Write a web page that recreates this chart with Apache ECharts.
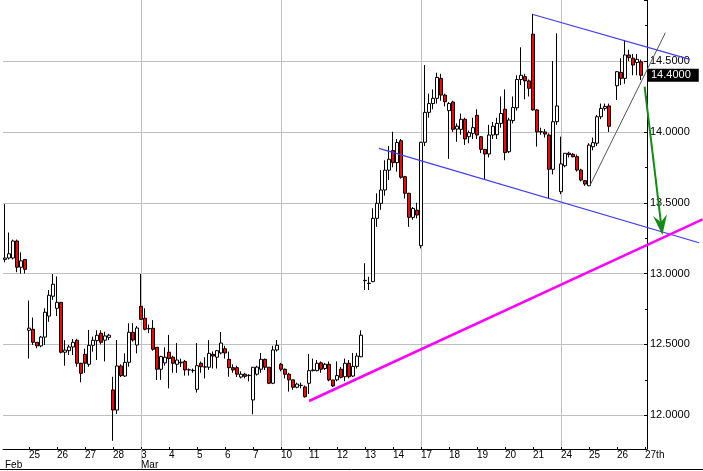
<!DOCTYPE html>
<html><head><meta charset="utf-8">
<script src="https://cdn.jsdelivr.net/npm/echarts@6/dist/echarts.min.js"></script>
<style>html,body{margin:0;padding:0;background:#fff}#c{width:703px;height:471px}</style>
</head><body><div id="c"></div>
<script>
// ---- tick labels / days ----
const dayLabels   = ['', '25','26','27','28','3','4','5','6','7','10','11','12','13','14','17','18','19','20','21','24','25','26','27th'];
const monthLabels = ['Feb','','','','','Mar','','','','','','','','','','','','','','','','','',''];
const barsPerDay  = [6,7,7,7,7,7,7,7,7,7,7,7,7,7,7,7,7,7,7,7,7,7,7,1];
const weekStartDays = [5,10,15,20];

// ---- hourly OHLC ----
const openP = [
13.10,13.11,13.11,13.23,13.045,13.10,
12.60,12.607,12.515,12.49,12.552,12.70,12.84,
12.755,12.797,12.445,12.456,12.482,12.529,12.367,
12.43,12.36,12.494,12.527,12.579,12.53,12.55,
12.179,12.037,12.348,12.277,12.374,12.586,12.496,
12.769,12.685,12.61,12.614,12.48,12.325,12.37,
12.445,12.41,12.36,12.37,12.38,12.32,12.315,
12.183,12.367,12.34,12.339,12.43,12.41,12.44,
12.47,12.395,12.336,12.336,12.27,12.29,12.28,
12.108,12.29,12.325,12.395,12.339,12.226,12.461,
12.36,12.325,12.29,12.25,12.198,12.21,12.20,
12.226,12.315,12.315,12.37,12.33,12.36,12.249,
12.25,12.325,12.272,12.367,12.277,12.345,12.413,
12.95,12.93,12.943,13.39,13.496,13.59,13.73,
13.868,13.783,13.938,13.684,13.567,13.397,13.447,
13.197,13.927,14.138,14.20,14.237,14.378,14.26,
14.15,14.211,14.02,14.018,14.089,13.966,13.99,
14.117,13.966,13.877,13.844,13.978,13.98,14.06,
14.16,13.86,14.08,14.17,14.37,14.39,14.36,
14.69,14.155,14.0,14.0,13.978,13.736,14.072,
13.578,13.761,13.85,13.842,13.825,13.731,13.656,
13.62,13.895,13.92,14.107,14.166,14.183,null,
14.326,14.42,14.378,14.543,14.52,14.49,14.495];
const closeP = [
13.11,13.14,13.23,13.045,13.09,13.03,
12.615,12.515,12.49,12.552,12.727,12.847,12.925,
12.797,12.445,12.46,12.482,12.515,12.367,12.296,
12.367,12.494,12.529,12.565,12.515,12.56,12.565,
12.037,12.348,12.28,12.374,12.586,12.531,12.616,
12.677,12.607,12.612,12.466,12.325,12.414,12.41,
12.40,12.367,12.39,12.375,12.32,12.322,12.317,
12.35,12.343,12.342,12.437,12.418,12.456,12.51,
12.44,12.336,12.32,12.29,12.29,12.275,12.282,
12.339,12.34,12.395,12.339,12.226,12.461,12.494,
12.325,12.29,12.25,12.198,12.22,12.212,12.131,
12.315,12.32,12.367,12.325,12.36,12.249,12.207,
12.28,12.268,12.367,12.272,12.345,12.418,12.565,
12.952,12.932,13.39,13.496,13.59,13.73,13.807,
13.783,13.925,13.68,13.567,13.397,13.46,13.413,
13.927,14.138,14.20,14.237,14.385,14.26,14.213,
14.20,14.018,14.04,14.089,13.95,13.995,14.03,
13.978,13.877,13.844,13.978,14.04,14.06,14.13,
13.854,14.084,14.173,14.37,14.40,14.36,14.308,
14.155,14.0,14.002,13.985,13.736,14.072,14.183,
13.774,13.849,13.84,13.825,13.731,13.66,13.632,
13.907,13.924,14.107,14.166,14.18,14.04,null,
14.425,14.378,14.543,14.524,14.472,14.512,14.40];
const lowP = [
13.08,13.10,13.10,13.01,13.00,13.00,
12.40,12.496,12.473,12.48,12.496,12.66,12.814,
12.70,12.437,12.35,12.425,12.425,12.343,12.233,
12.30,12.343,12.449,12.39,12.50,12.38,12.53,
11.82,12.009,12.27,12.27,12.343,12.52,12.437,
12.672,12.60,12.58,12.456,12.249,12.25,12.35,
12.19,12.30,12.30,12.34,12.28,12.28,12.30,
12.16,12.30,12.26,12.32,12.33,12.33,12.43,
12.40,12.272,12.30,12.27,12.26,12.26,12.24,
12.007,12.28,12.30,12.32,12.22,12.22,12.45,
12.31,12.26,12.167,12.18,12.19,12.19,12.125,
12.15,12.31,12.31,12.30,12.32,12.24,12.20,
12.24,12.26,12.24,12.26,12.27,12.33,12.41,
12.884,12.884,12.94,13.33,13.45,13.55,13.66,
13.75,13.72,13.67,13.53,13.33,13.38,13.39,
13.178,13.90,14.10,14.16,14.20,14.22,14.18,
13.81,14.0,13.93,13.98,13.908,13.92,13.95,
13.95,13.85,13.666,13.82,13.95,13.95,14.03,
13.80,13.85,14.06,14.15,14.33,14.23,14.25,
14.15,13.896,13.98,13.96,13.531,13.70,14.05,
13.56,13.75,13.82,13.82,13.72,13.65,13.62,
13.62,13.87,13.90,14.09,14.15,14.00,null,
14.225,14.33,14.34,14.50,14.40,14.40,14.366];
const highP = [
13.49,13.29,13.24,13.24,13.15,13.10,
12.81,12.69,12.515,12.56,12.755,12.884,12.997,
12.98,12.80,12.53,12.496,12.538,12.54,12.37,
12.47,12.602,12.555,12.60,12.60,12.59,12.575,
12.272,12.531,12.36,12.437,12.649,12.65,12.63,
12.997,12.755,12.64,12.672,12.48,12.42,12.48,
12.567,12.42,12.51,12.40,12.39,12.33,12.33,
12.51,12.38,12.41,12.53,12.45,12.46,12.588,
12.49,12.449,12.36,12.35,12.31,12.30,12.29,
12.34,12.35,12.44,12.40,12.34,12.49,12.531,
12.37,12.33,12.30,12.25,12.23,12.23,12.21,
12.433,12.40,12.39,12.38,12.37,12.38,12.25,
12.38,12.34,12.40,12.39,12.44,12.44,12.60,
13.073,12.978,13.461,13.567,13.73,13.80,13.90,
14.001,13.95,13.95,13.69,13.57,13.47,13.50,
13.93,14.472,14.27,14.30,14.418,14.41,14.27,
14.21,14.22,14.06,14.13,14.10,14.01,14.10,
14.16,13.97,13.88,14.05,14.07,14.10,14.25,
14.30,14.10,14.25,14.40,14.597,14.41,14.37,
14.833,14.16,14.03,14.02,13.99,14.50,14.696,
13.967,13.85,13.86,13.85,13.84,13.74,13.66,
13.92,13.96,14.12,14.20,14.20,14.20,null,
14.43,14.52,14.649,14.58,14.55,14.55,14.51];
const lastPrice = 14.40;

// ---- drawn annotations, in data space [bar index, price] ----
const upperChannel = [[132.0, 14.829], [171.2, 14.512]];
const lowerChannel = [[93.5, 13.884], [173.5, 13.218]];
const supportLine  = [[76.0, 12.101], [174.4, 13.383]];
const risingLine   = [[146.2, 13.620], [165.1, 14.700]];
const targetArrow  = [[159.9, 14.319], [164.35, 13.272]];

// ---- font choice (narrow face if available) ----
function hasFont(name) {
  const c = document.createElement('canvas').getContext('2d');
  const s = 'mmmmmlli14.5000';
  c.font = '40px monospace'; const a = c.measureText(s).width;
  c.font = "40px '" + name + "', monospace"; const b = c.measureText(s).width;
  return Math.abs(a - b) > 0.5;
}
const narrow = hasFont('Liberation Sans Narrow');
const yFont = narrow ? "'Liberation Sans Narrow'" : "'Liberation Sans', Arial, sans-serif";
const ySize = narrow ? 12 : 11;
const xFont = "'Liberation Sans', Arial, sans-serif";

// ---- build ----
const cats = [], catDay = [];
barsPerDay.forEach((n, d) => { for (let k = 0; k < n; k++) { catDay.push(k === 0 ? d : -1); cats.push(String(cats.length)); } });
const ohlc = openP.map((o, i) => o == null ? '-' : [o, closeP[i], lowP[i], highP[i]]);
const weekIdx = new Set();
catDay.forEach((d, i) => { if (weekStartDays.indexOf(d) >= 0) weekIdx.add(i); });
const monthIdx = catDay.indexOf(5);

const chart = echarts.init(document.getElementById('c'), null, {renderer: 'canvas'});
chart.setOption({
  animation: false,
  backgroundColor: '#fff',
  grid: {left: 3, right: 56, top: 0, bottom: 22},
  xAxis: {
    type: 'category', data: cats, boundaryGap: true,
    axisLine: {show: true, lineStyle: {color: '#000', width: 1}},
    axisTick: {show: true, inside: true, length: 2, alignWithLabel: true,
      interval: (i) => catDay[i] >= 1, lineStyle: {color: '#000'}},
    axisLabel: {show: true, interval: (i) => catDay[i] >= 0, align: 'left', margin: 1.5,
      fontSize: 10, lineHeight: 10, color: '#000', fontFamily: xFont,
      formatter: (v, i) => { const d = catDay[i]; return d >= 0 ? (dayLabels[d] + '\n' + monthLabels[d]) : ''; }},
    splitLine: {show: true, interval: (i) => weekIdx.has(i), alignWithLabel: true,
      lineStyle: {color: '#c0c0c0', width: 1}}
  },
  yAxis: {
    type: 'value', position: 'right', min: 11.762, max: 14.931, splitNumber: 5,
    axisLine: {show: true, lineStyle: {color: '#000'}},
    axisTick: {show: true, inside: true, length: 3, lineStyle: {color: '#000'}},
    minorTick: {show: true, splitNumber: 2, length: 2, lineStyle: {color: '#000'}},
    axisLabel: {showMinLabel: false, showMaxLabel: false, margin: 3, fontSize: ySize,
      color: '#000', fontFamily: yFont, formatter: (v) => v.toFixed(4)},
    splitLine: {show: true, showMinLine: false, showMaxLine: false, lineStyle: {color: '#c0c0c0'}}
  },
  series: [{
    type: 'candlestick', data: ohlc, barWidth: 3,
    itemStyle: {color: '#ffffff', color0: '#ff0000', borderColor: '#000', borderColor0: '#000',
      borderColorDoji: '#000', borderWidth: 1},
    markLine: {silent: true, symbol: ['none', 'none'], animation: false,
      lineStyle: {color: 'rgba(0,0,0,0)', width: 0},
      label: {show: true, position: 'end', distance: 0, formatter: () => lastPrice.toFixed(4),
        backgroundColor: '#000', color: '#fff', padding: [1, 8, 1, 4], fontSize: ySize, fontFamily: yFont},
      data: [{yAxis: lastPrice}]}
  }]
});

// ---- overlay annotations via the chart's own scales ----
const xa = chart.convertToPixel({xAxisIndex: 0}, '0');
const xb = chart.convertToPixel({xAxisIndex: 0}, '100');
const step = (xb - xa) / 100;
const px = (i) => xa + step * i;
const py = (p) => chart.convertToPixel({yAxisIndex: 0}, p);
const seg = (pts, stroke, w, z) => ({type: 'line', z: z || 50, silent: true,
  shape: {x1: px(pts[0][0]), y1: py(pts[0][1]), x2: px(pts[1][0]), y2: py(pts[1][1])},
  style: {stroke: stroke, lineWidth: w}});
const gfx = [
  seg(lowerChannel, '#3c3cff', 1.2),
  seg(upperChannel, '#3c3cff', 1.2),
  seg(supportLine, '#ff00ff', 2.6),
  seg(risingLine, '#555555', 1)
];
// arrow
const ax1 = px(targetArrow[0][0]), ay1 = py(targetArrow[0][1]);
const ax2 = px(targetArrow[1][0]), ay2 = py(targetArrow[1][1]);
const L = Math.hypot(ax2 - ax1, ay2 - ay1), ux = (ax2 - ax1) / L, uy = (ay2 - ay1) / L;
const nx = -uy, ny = ux;
const hl = 20, hw = 7, notch = 13;
gfx.push({type: 'line', z: 51, silent: true,
  shape: {x1: ax1, y1: ay1, x2: ax2 - ux * notch, y2: ay2 - uy * notch},
  style: {stroke: '#138a13', lineWidth: 2}});
gfx.push({type: 'polygon', z: 51, silent: true,
  shape: {points: [[ax2, ay2], [ax2 - ux * hl + nx * hw, ay2 - uy * hl + ny * hw],
    [ax2 - ux * notch, ay2 - uy * notch], [ax2 - ux * hl - nx * hw, ay2 - uy * hl - ny * hw]]},
  style: {fill: '#138a13'}});
// frame under the date labels
const yBottom = py(11.762);
const xMar = Math.round(px(monthIdx)) + 0.5;
gfx.push({type: 'line', z: 40, silent: true, shape: {x1: xMar, y1: yBottom, x2: xMar, y2: 470},
  style: {stroke: '#c0c0c0', lineWidth: 1}});
gfx.push({type: 'line', z: 40, silent: true, shape: {x1: 0, y1: 469.5, x2: 703, y2: 469.5},
  style: {stroke: '#000', lineWidth: 1}});
chart.setOption({graphic: gfx});
</script>
</body></html>
